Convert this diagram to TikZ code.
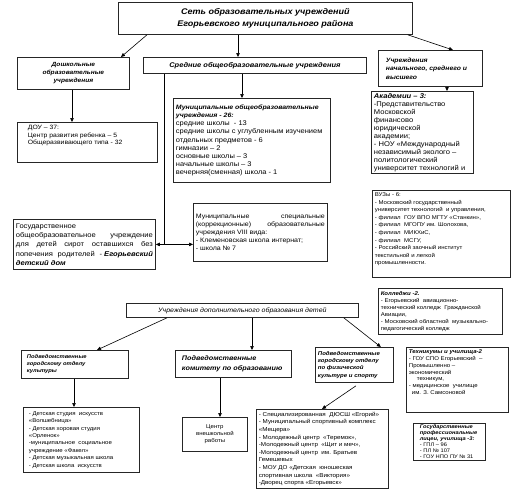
\documentclass[tikz,border=0pt]{standalone}
\usepackage{fontspec}
\setmainfont{Liberation Sans}[FakeStretch=1.1]
\usetikzlibrary{arrows.meta}
\newcommand\fz[2]{\fontsize{#1}{#2}\selectfont}
\newcommand\bi{\bfseries\itshape}
\newcommand\bx[8]{%
 \pgfmathsetmacro\bxh{#5-#3-5}\pgfmathsetmacro\bxw{#4-#2-5}%
 \node[box,anchor=north west,#6] (#1) at (#2,#3) {\parbox[c][\bxh pt][#7]{\bxw pt}{#8}};}
\tikzset{
 box/.style={draw=black!85,line width=0.8pt,inner sep=2.5pt,fill=white},
 arr/.style={draw=black,line width=0.6pt,-{Triangle[length=4pt,width=3.5pt]}},
 ln/.style={draw=black,line width=0.6pt}
}
\begin{document}
\begin{tikzpicture}[x=1pt,y=-1pt]
\useasboundingbox (0,0) rectangle (515,491);
\fill[white] (0,0) rectangle (515,491);

\bx{title}{118}{2}{412}{34}{}{c}{\centering\bi\fz{8.2}{12}Сеть образовательных учреждений\\Егорьевского муниципального района}
\bx{dosh}{17}{57}{129}{89}{}{c}{\centering\bi\fz{6}{8}Дошкольные\\образовательные\\учреждения}
\bx{sred}{143}{57}{366}{73}{}{c}{\centering\bi\fz{6.8}{8}Средние общеобразовательные учреждения}
\bx{uchr}{378}{50}{482}{86}{}{c}{\raggedright\leftskip=5pt\bi\fz{6.2}{8.5}Учреждения\\начального, среднего и\\высшего}
\bx{dou}{17}{122}{157}{162}{}{t}{\raggedright\leftskip=8pt\fz{6.2}{7.8}ДОУ – 37:\\Центр развития ребенка – 5\\Общеразвивающего типа - 32}
\bx{mun}{173}{98}{330}{182}{}{c}{\raggedright\fz{6.8}{8.2}{\bi\fz{6.3}{8.2}Муниципальные общеобразовательные\\учреждения - 26:}\\средние школы\ \ - 13\\средние школы с углубленным изучением\\отдельных предметов - 6\\гимназии – 2\\основные школы – 3\\начальные школы – 3\\вечерняя(сменная) школа - 1}
\bx{akad}{371}{91}{473}{173}{}{t}{\raggedright\fz{6.9}{8}{\bi Академии – 3:}\\-Представительство\\Московской\\финансово\\юридической\\академии;\\- НОУ «Международный\\независимый эколого –\\политологический\\университет технологий и}
\bx{vuzy}{372}{190}{510}{277}{}{t}{\raggedright\fz{5.5}{7.55}ВУЗы - 6:\\- Московский государственный\\университет технологий\ \ и управления,\\- филиал\ \ ГОУ ВПО МГТУ «Станкин»,\\- филиал\ \ МГОПУ им. Шолохова,\\- филиал\ \ МИКХиС,\\- филиал\ \ МСГУ,\\- Российский заочный институт\\текстильной и легкой\\промышленности.}
\bx{gos}{13}{219}{155}{269}{}{c}{\raggedright\fz{6.9}{9.3}Государственное\\общеобразовательное\hfill учреждение\\для\hfill детей\hfill сирот\hfill оставшихся\hfill без\\попечения\hfill родителей\hfill - {\bi Егорьевский}\\{\bi детский дом}}
\bx{spec}{193}{203}{327}{261}{}{c}{\raggedright\fz{6.4}{8}Муниципальные\hfill специальные\\(коррекционные)\hfill образовательные\\учреждения VIII вида:\\- Клеменовская школа интернат;\\- школа № 7}
\bx{dop}{126}{303}{358}{317}{}{c}{\centering\itshape\fz{6.4}{8}Учреждения дополнительного образования детей}
\bx{koll}{378}{288}{502}{334}{}{c}{\raggedright\fz{5.5}{7}{\bi Колледжи -2.}\\- Егорьевский\ \ авиационно-\\технический колледж\ \ Гражданской\\Авиации,\\- Московский областной\ \ музыкально-\\педагогический колледж}
\bx{kult}{21}{350}{128}{378}{}{c}{\raggedright\leftskip=3pt\bi\fz{5.3}{7}Подведомственные\\городскому отделу\\культуры}
\bx{kom}{175}{350}{291}{377}{}{c}{\raggedright\leftskip=4pt\bi\fz{6.6}{9.3}Подведомственные\\комитету по образованию}
\bx{sport}{315}{347}{393}{382}{}{c}{\raggedright\bi\fz{5.5}{7.3}Подведомственные\\городскому отделу\\по физической\\культуре и спорту}
\bx{tech}{406}{347}{508}{412}{}{t}{\raggedright\fz{5.5}{6.8}{\bi Техникумы и училища-2}\\- ГОУ СПО Егорьевский\ \ –\\Промышленно –\\экономический\\\hspace*{8pt}техникум,\\- медицинское\ \ училище\\\hspace*{3pt}им. З. Самсоновой}
\bx{klist}{23}{407}{139}{472}{}{c}{\raggedright\leftskip=3pt\fz{5.5}{7.4}- Детская студия\ \ искусств\\«Волшебница»\\- Детская хоровая студия\\«Орленок»\\-муниципальное\ \ социальное\\учреждение «Факел»\\- Детская музыкальная школа\\- Детская школа\ \ искусств}
\bx{centr}{182}{417}{247}{451}{}{c}{\centering\fz{5.5}{7}Центр\\внешкольной\\работы}
\bx{dyush}{256}{409}{388}{488}{}{c}{\raggedright\fz{5.7}{7.6}- Специализированная\ \ ДЮСШ «Егорий»\\- Муниципальный спортивный комплекс\\«Мещера»\\- Молодежный центр\ \ «Теремок»,\\-Молодежный центр\ \ «Щит и меч»,\\-Молодежный центр\ \ им. Братьев\\Гемешевых\\- МОУ ДО «Детская\ \ юношеская\\спортивная школа\ \ «Виктория»\\-Дворец спорта «Егорьевск»}
\bx{gproc}{413}{423}{485}{460}{}{c}{\raggedright\leftskip=4pt\fz{5.2}{6}{\bi Государственные\\профессиональные\\лицеи, училища -3:}\\- ГПЛ – 96\\- ПЛ № 107\\- ГОУ НПО ПУ № 31}

\draw[arr] ([xshift=29pt]title.south west) -- ([xshift=104pt]dosh.north west);
\draw[arr] ([xshift=120pt]title.south west) -- ([xshift=95pt]sred.north west);
\draw[arr] ([xshift=-5pt]title.south east) -- ([xshift=75pt]uchr.north west);
\draw[arr] ([xshift=99pt]sred.south west) -- ([xshift=69pt]mun.north west);
\draw[arr] ([xshift=69pt]uchr.south west) -- ([xshift=76pt]akad.north west);
\draw[arr] ([xshift=55pt]dosh.south west) -- ([xshift=55pt]dou.north west);
\coordinate (sv) at ([xshift=21pt]sred.south west);
\coordinate (jn) at (sv |- gos.east);
\draw[ln] (sv) -- (jn);
\draw[arr] (jn) -- (gos.east);
\draw[arr] (jn) -- (jn -| spec.west);
\draw[arr] ([xshift=41pt]dop.south west) -- ([xshift=76pt]kult.north west);
\draw[arr] ([xshift=126pt]dop.south west) -- ([xshift=77pt]kom.north west);
\draw[arr] ([xshift=-15pt]dop.south east) -- ([xshift=-13pt]sport.north east);
\draw[arr] ([xshift=53pt]kult.south west) -- ([xshift=51pt]klist.north west);
\draw[arr] ([xshift=45pt]kom.south west) -- ([xshift=38pt]centr.north west);
\draw[arr] ([xshift=41pt,yshift=-3pt]sport.south west) -- ([xshift=66pt]dyush.north west);
\end{tikzpicture}
\end{document}
